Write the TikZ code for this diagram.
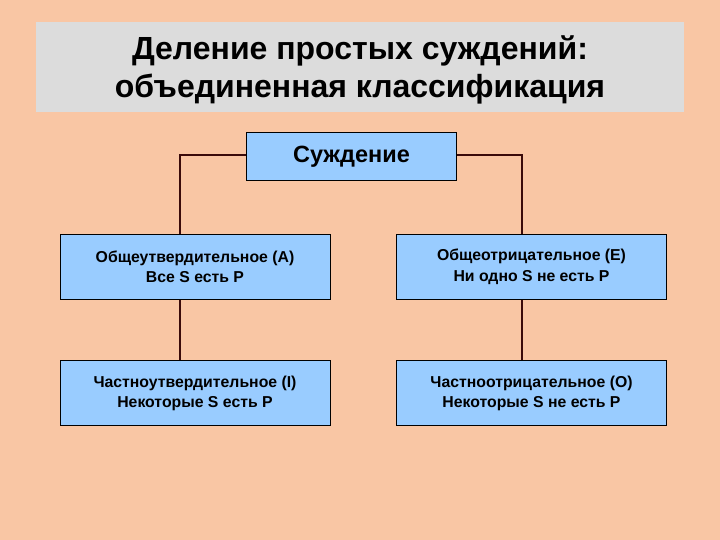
\documentclass[tikz,border=0pt]{standalone}
\usepackage{fontspec}
\setmainfont{Liberation Sans}
\definecolor{bgpeach}{HTML}{F9C6A4}
\definecolor{titlegray}{HTML}{DCDCDC}
\definecolor{boxblue}{HTML}{99CCFF}
\definecolor{linebrown}{HTML}{3A0A0A}
\tikzset{
  x=1pt, y=1pt,
  classbox/.style={draw=black, line width=1pt, fill=boxblue, minimum width=270pt, minimum height=65pt, align=center, inner sep=0pt, font=\fontsize{15.8}{20.5}\selectfont\bfseries},
  rootbox/.style={draw=black, line width=1pt, fill=boxblue, minimum width=210pt, minimum height=48pt, inner sep=0pt, font=\fontsize{23.5}{26}\selectfont\bfseries},
  conn/.style={draw=linebrown, line width=2pt}
}
\begin{document}
\begin{tikzpicture}
\fill[bgpeach] (0,0) rectangle (720,540);
\useasboundingbox (0,0) rectangle (720,540);
\node[fill=titlegray, minimum width=648pt, minimum height=90pt, inner sep=0pt] (titlebox) at (360,473) {};
\node[align=center, inner sep=0pt, font=\fontsize{32}{38}\selectfont\bfseries] (title) at (360,470) {Деление простых суждений:\\объединенная классификация};
\node[rootbox] (root) at (351.5,383) {\raisebox{-2pt}{Суждение}};
\node[classbox] (A) at (195,273) {Общеутвердительное (А)\\Все S есть P};
\node[classbox] (E) at (531.5,273) {Общеотрицательное (Е)\\Ни одно S не есть P};
\node[classbox] (I) at (195,146.5) {Частноутвердительное (I)\\Некоторые S есть P};
\node[classbox] (O) at (531.5,146.5) {Частноотрицательное (О)\\Некоторые S не есть P};
\draw[conn] (root.west |- 0,385) -| (180,0 |- A.north);
\draw[conn] (root.east |- 0,385) -| (522,0 |- E.north);
\draw[conn] (180,0 |- A.south) -- (180,0 |- I.north);
\draw[conn] (522,0 |- E.south) -- (522,0 |- O.north);
\end{tikzpicture}
\end{document}
